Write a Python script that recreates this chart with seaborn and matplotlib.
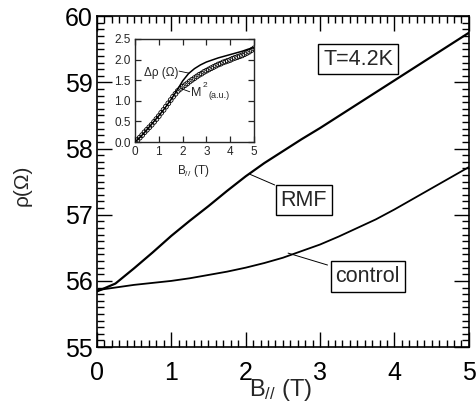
import numpy as np
import pandas as pd
import matplotlib
matplotlib.use("Agg")
import matplotlib.pyplot as plt
import seaborn as sns
from matplotlib.ticker import MultipleLocator

# main panel: resistivity vs parallel field
b_main = [0, 0.25, 0.5, 0.75, 1.0, 1.25, 1.5, 1.75, 2.0, 2.25, 2.5,
          2.75, 3.0, 3.25, 3.5, 3.75, 4.0, 4.25, 4.5, 4.75, 5.0]
rho_rmf = [55.84, 55.96, 56.19, 56.43, 56.68, 56.91, 57.13, 57.36, 57.58, 57.78, 57.96,
           58.14, 58.31, 58.49, 58.67, 58.85, 59.03, 59.21, 59.39, 59.57, 59.75]
rho_control = [55.86, 55.90, 55.94, 55.97, 56.00, 56.04, 56.09, 56.14, 56.20, 56.27, 56.35,
               56.45, 56.55, 56.67, 56.80, 56.93, 57.08, 57.24, 57.40, 57.56, 57.72]

# inset: delta rho (line) and M^2 (open circles)
b_inset = b_main
delta_rho = [0.0, 0.14, 0.30, 0.47, 0.64, 0.82, 1.02, 1.24, 1.48, 1.66, 1.78,
             1.87, 1.94, 1.99, 2.04, 2.08, 2.12, 2.16, 2.20, 2.25, 2.29]
b_m2 = [round(0.1 * i, 1) for i in range(51)]
m2 = [0.00, 0.05, 0.11, 0.17, 0.24, 0.30, 0.36, 0.42, 0.49, 0.56,
      0.63, 0.71, 0.78, 0.86, 0.94, 1.02, 1.10, 1.17, 1.24, 1.29,
      1.34, 1.38, 1.42, 1.47, 1.51, 1.55, 1.59, 1.63, 1.66, 1.70,
      1.73, 1.76, 1.79, 1.82, 1.85, 1.88, 1.90, 1.93, 1.95, 1.97,
      1.99, 2.02, 2.04, 2.06, 2.08, 2.10, 2.13, 2.16, 2.19, 2.23, 2.27]

sns.set_style("ticks")
plt.rcParams['font.family'] = ['Liberation Sans', 'DejaVu Sans']
plt.rcParams['mathtext.fontset'] = 'custom'
plt.rcParams['mathtext.rm'] = 'Liberation Sans'
plt.rcParams['mathtext.it'] = 'Liberation Sans:italic'

fig = plt.figure(figsize=(4.77, 4.05), dpi=100)
ax = fig.add_axes([0.203, 0.143, 0.780, 0.817])

df = pd.DataFrame({"B": b_main, "RMF": rho_rmf, "control": rho_control})
sns.lineplot(data=df, x="B", y="RMF", ax=ax, color="black", lw=1.6)
sns.lineplot(data=df, x="B", y="control", ax=ax, color="black", lw=1.3)

ax.set_xlim(0, 5)
ax.set_ylim(55, 60)
ax.xaxis.set_major_locator(MultipleLocator(1))
ax.xaxis.set_minor_locator(MultipleLocator(0.1))
ax.yaxis.set_major_locator(MultipleLocator(1))
ax.yaxis.set_minor_locator(MultipleLocator(0.1))
ax.tick_params(which="both", direction="in", top=True, right=True, width=1.0, colors="black")
ax.tick_params(which="major", length=11, labelsize=18)
ax.tick_params(which="minor", length=5)
ax.tick_params(axis="x", which="major", pad=10)
ax.tick_params(axis="y", which="major", pad=3)
for s in ax.spines.values():
    s.set_linewidth(1.2)
    s.set_color("black")

ax.set_xlabel(r"B$_{//}$ (T)", fontsize=17)
ax.xaxis.set_label_coords(0.495, -0.09)
ax.set_ylabel(r"ρ(Ω)", fontsize=15)
ax.yaxis.set_label_coords(-0.175, 0.49)

box = dict(boxstyle="square,pad=0.22", fc="white", ec="black", lw=1.0)
ax.text(3.51, 59.35, "T=4.2K", fontsize=15.5, ha="center", va="center", bbox=box)
ax.text(2.78, 57.22, "RMF", fontsize=15.5, ha="center", va="center", bbox=box)
ax.text(3.64, 56.07, "control", fontsize=15.5, ha="center", va="center", bbox=box)
ax.plot([2.06, 2.39], [57.61, 57.45], color="black", lw=0.7)
ax.plot([2.57, 3.10], [56.42, 56.24], color="black", lw=0.7)

# inset
axi = fig.add_axes([0.283, 0.649, 0.2495, 0.255])
sns.lineplot(x=b_inset, y=delta_rho, ax=axi, color="black", lw=1.1)
sns.scatterplot(x=b_m2, y=m2, ax=axi, marker="o", s=12, facecolor="none",
                edgecolor="black", linewidth=0.6, zorder=3)
axi.set_xlim(0, 5)
axi.set_ylim(0, 2.5)
axi.xaxis.set_major_locator(MultipleLocator(1))
axi.yaxis.set_major_locator(MultipleLocator(0.5))
axi.yaxis.set_major_formatter(matplotlib.ticker.FormatStrFormatter("%.1f"))
axi.tick_params(direction="in", top=True, right=True, length=4, width=0.9,
                labelsize=8.5, pad=3)
for s in axi.spines.values():
    s.set_linewidth(1.0)
axi.set_xlabel(r"B$_{//}$ (T)", fontsize=8.5)
axi.xaxis.set_label_coords(0.487, -0.2)
axi.set_ylabel("")
axi.text(1.09, 1.68, "Δρ (Ω)", fontsize=8.5, ha="center", va="center")
axi.plot([1.85, 2.27], [1.72, 1.67], color="black", lw=0.6)
axi.text(2.34, 1.19, "M", fontsize=9, ha="left", va="center")
axi.text(2.82, 1.36, "2", fontsize=6, ha="left", va="center")
axi.text(3.08, 1.14, "(a.u.)", fontsize=6.5, ha="left", va="center")
axi.plot([1.92, 2.30], [1.30, 1.22], color="black", lw=0.6)

fig.savefig("out.png", dpi=100)
